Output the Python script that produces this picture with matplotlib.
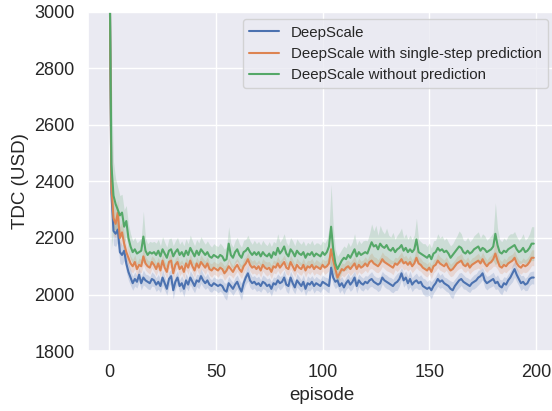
import numpy as np
import matplotlib
matplotlib.use("Agg")
import matplotlib.pyplot as plt
import seaborn as sns

labels = ["DeepScale", "DeepScale with single-step prediction", "DeepScale without prediction"]

blue = [3350, 2360, 2225, 2215, 2230, 2150, 2140, 2155, 2110, 2080,
        2060, 2040, 2055, 2045, 2070, 2040, 2060, 2050, 2045, 2040,
        2055, 2050, 2035, 2045, 2030, 2060, 2040, 2020, 2055, 2065,
        2015, 2045, 2060, 2030, 2040, 2020, 2050, 2035, 2060, 2045,
        2030, 2050, 2045, 2065, 2050, 2040, 2050, 2035, 2030, 2040,
        2035, 2030, 2035, 2030, 2015, 2010, 2040, 2030, 2020, 2035,
        2045, 2025, 2010, 2040, 2060, 2075, 2050, 2040, 2045, 2035,
        2040, 2030, 2045, 2040, 2030, 2035, 2020, 2040, 2035, 2050,
        2040, 2045, 2060, 2035, 2030, 2060, 2040, 2025, 2050, 2040,
        2030, 2045, 2020, 2040, 2035, 2045, 2030, 2040, 2035, 2030,
        2045, 2040, 2035, 2030, 2095, 2060, 2045, 2050, 2030, 2040,
        2025, 2040, 2050, 2035, 2045, 2060, 2030, 2050, 2040, 2035,
        2045, 2040, 2050, 2055, 2045, 2040, 2035, 2040, 2060, 2050,
        2045, 2040, 2035, 2030, 2040, 2045, 2055, 2075, 2050, 2060,
        2040, 2055, 2035, 2045, 2050, 2040, 2045, 2030, 2025, 2020,
        2025, 2015, 2030, 2040, 2055, 2045, 2050, 2040, 2035, 2030,
        2020, 2015, 2030, 2040, 2050, 2055, 2045, 2040, 2035, 2030,
        2040, 2045, 2050, 2060, 2065, 2075, 2050, 2040, 2045, 2050,
        2055, 2040, 2045, 2030, 2025, 2040, 2035, 2050, 2060, 2075,
        2090, 2070, 2055, 2040, 2045, 2035, 2040, 2055, 2060, 2060]

orange = [3350, 2385, 2270, 2250, 2290, 2200, 2220, 2180, 2150, 2130,
          2110, 2100, 2115, 2090, 2105, 2100, 2135, 2110, 2100, 2095,
          2115, 2105, 2090, 2110, 2085, 2120, 2095, 2080, 2115, 2120,
          2075, 2105, 2115, 2090, 2100, 2080, 2110, 2095, 2120, 2100,
          2085, 2110, 2095, 2115, 2105, 2095, 2110, 2090, 2085, 2095,
          2090, 2085, 2095, 2090, 2075, 2085, 2100, 2090, 2080, 2095,
          2105, 2090, 2080, 2100, 2110, 2125, 2105, 2095, 2100, 2090,
          2100, 2085, 2105, 2095, 2090, 2095, 2080, 2100, 2095, 2110,
          2095, 2105, 2115, 2095, 2090, 2115, 2100, 2085, 2105, 2095,
          2090, 2105, 2085, 2100, 2095, 2105, 2090, 2100, 2095, 2090,
          2105, 2095, 2100, 2110, 2160, 2120, 2090, 2060, 2075, 2090,
          2085, 2095, 2100, 2090, 2100, 2110, 2090, 2105, 2095, 2100,
          2110, 2100, 2115, 2120, 2110, 2105, 2100, 2110, 2125, 2115,
          2110, 2105, 2100, 2095, 2110, 2105, 2115, 2125, 2110, 2115,
          2105, 2115, 2100, 2110, 2130, 2110, 2105, 2095, 2090, 2085,
          2095, 2080, 2100, 2105, 2120, 2110, 2105, 2100, 2110, 2095,
          2085, 2090, 2100, 2110, 2115, 2120, 2105, 2100, 2110, 2095,
          2105, 2110, 2115, 2120, 2110, 2125, 2110, 2100, 2110, 2115,
          2125, 2145, 2120, 2100, 2095, 2105, 2100, 2110, 2115, 2120,
          2130, 2110, 2100, 2095, 2105, 2100, 2105, 2115, 2130, 2130]

green = [3350, 2460, 2350, 2320, 2300, 2280, 2290, 2240, 2260, 2200,
         2170, 2150, 2160, 2145, 2150, 2155, 2205, 2155, 2140, 2150,
         2145, 2150, 2140, 2155, 2135, 2160, 2145, 2130, 2155, 2160,
         2135, 2150, 2160, 2140, 2150, 2135, 2155, 2140, 2165, 2150,
         2135, 2155, 2140, 2160, 2150, 2140, 2150, 2135, 2130, 2140,
         2135, 2130, 2140, 2135, 2120, 2125, 2180, 2140, 2130, 2150,
         2160, 2140, 2130, 2150, 2155, 2165, 2150, 2140, 2150, 2140,
         2150, 2135, 2150, 2140, 2135, 2145, 2130, 2150, 2140, 2165,
         2145, 2155, 2170, 2145, 2135, 2160, 2150, 2135, 2155, 2145,
         2140, 2150, 2130, 2145, 2140, 2150, 2135, 2145, 2140, 2135,
         2150, 2140, 2150, 2170, 2240, 2160, 2110, 2090, 2105, 2120,
         2130, 2125, 2140, 2130, 2145, 2160, 2135, 2150, 2140, 2145,
         2150, 2145, 2165, 2185, 2170, 2175, 2160, 2180, 2170, 2165,
         2175, 2160, 2155, 2165, 2150, 2160, 2165, 2175, 2155, 2165,
         2150, 2160, 2150, 2160, 2195, 2150, 2145, 2140, 2135, 2130,
         2140, 2125, 2145, 2150, 2165, 2155, 2160, 2150, 2155, 2145,
         2130, 2140, 2150, 2160, 2170, 2165, 2150, 2145, 2155, 2145,
         2150, 2160, 2165, 2170, 2155, 2165, 2160, 2150, 2155, 2160,
         2170, 2215, 2175, 2150, 2145, 2155, 2150, 2160, 2165, 2170,
         2175, 2160, 2150, 2155, 2165, 2150, 2155, 2165, 2180, 2180]

blue_hw = [0, 60, 50, 45, 45, 40, 35, 35, 30, 30,
           28, 25, 25, 22, 25, 24, 26, 22, 25, 23,
           25, 22, 24, 26, 23, 28, 25, 22, 26, 24,
           30, 25, 24, 22, 26, 28, 24, 22, 25, 26,
           24, 22, 25, 26, 23, 22, 25, 24, 22, 23,
           22, 24, 23, 25, 26, 30, 24, 22, 23, 25,
           24, 26, 30, 25, 24, 28, 25, 23, 22, 24,
           25, 22, 24, 23, 25, 24, 26, 22, 25, 23,
           24, 22, 25, 24, 26, 23, 25, 22, 24, 23,
           22, 25, 24, 26, 23, 22, 25, 24, 22, 23,
           24, 22, 25, 24, 30, 26, 24, 22, 25, 23,
           24, 22, 25, 24, 26, 23, 25, 22, 24, 23,
           22, 25, 24, 26, 23, 22, 25, 24, 22, 23,
           24, 22, 25, 24, 26, 30, 25, 22, 24, 23,
           24, 28, 25, 24, 26, 23, 25, 28, 30, 26,
           28, 30, 25, 24, 26, 23, 25, 22, 24, 23,
           28, 30, 25, 24, 26, 23, 25, 22, 24, 23,
           22, 25, 24, 26, 23, 22, 25, 24, 22, 23,
           24, 22, 25, 24, 26, 23, 25, 22, 24, 30,
           28, 25, 24, 26, 23, 22, 25, 24, 22, 23]

orange_hw = [0, 80, 60, 50, 45, 40, 38, 35, 30, 28,
             26, 24, 25, 22, 24, 23, 30, 24, 22, 23,
             22, 24, 23, 22, 25, 24, 22, 23, 24, 22,
             25, 23, 22, 24, 23, 25, 22, 24, 23, 22,
             24, 22, 23, 25, 22, 24, 23, 22, 24, 23,
             22, 24, 23, 22, 25, 24, 30, 23, 22, 24,
             23, 22, 24, 25, 23, 24, 22, 23, 24, 22,
             23, 24, 22, 23, 25, 22, 24, 23, 22, 25,
             24, 22, 25, 23, 22, 24, 23, 22, 24, 23,
             22, 24, 23, 22, 24, 23, 22, 24, 23, 22,
             22, 24, 23, 25, 50, 35, 30, 25, 24, 22,
             23, 24, 22, 23, 24, 26, 22, 24, 23, 22,
             24, 23, 25, 28, 24, 26, 23, 25, 26, 24,
             26, 24, 23, 25, 22, 24, 25, 26, 23, 24,
             22, 24, 23, 24, 35, 24, 23, 22, 24, 23,
             22, 24, 23, 22, 25, 24, 23, 22, 24, 23,
             22, 24, 23, 25, 24, 26, 23, 22, 24, 23,
             24, 23, 25, 26, 23, 25, 24, 22, 23, 24,
             25, 45, 30, 24, 22, 24, 23, 25, 24, 23,
             25, 24, 22, 23, 25, 23, 24, 25, 28, 28]

green_hw = [0, 300, 120, 90, 80, 70, 65, 60, 55, 50,
            45, 40, 42, 38, 40, 45, 90, 45, 40, 38,
            40, 38, 42, 40, 38, 45, 40, 38, 42, 40,
            38, 40, 42, 38, 40, 38, 42, 40, 45, 40,
            38, 40, 42, 45, 40, 38, 40, 42, 38, 40,
            38, 40, 42, 38, 40, 45, 60, 42, 38, 40,
            42, 40, 38, 42, 40, 45, 40, 38, 42, 40,
            38, 40, 42, 40, 38, 42, 40, 38, 42, 50,
            40, 42, 45, 40, 38, 42, 40, 38, 42, 40,
            38, 40, 42, 40, 38, 42, 40, 38, 42, 40,
            40, 42, 45, 60, 150, 80, 50, 45, 42, 40,
            42, 40, 45, 40, 42, 55, 40, 42, 40, 45,
            42, 45, 50, 65, 55, 70, 50, 65, 55, 50,
            60, 50, 48, 55, 45, 50, 55, 60, 45, 50,
            45, 50, 45, 50, 75, 45, 42, 40, 45, 40,
            42, 40, 45, 42, 50, 45, 48, 42, 45, 40,
            42, 40, 45, 48, 55, 50, 42, 45, 48, 42,
            45, 48, 50, 52, 45, 50, 48, 42, 45, 48,
            50, 110, 60, 45, 42, 45, 42, 48, 50, 45,
            48, 45, 42, 45, 50, 42, 45, 50, 60, 60]

sns.set_theme(style="darkgrid")
plt.rcParams['font.family'] = ['Liberation Sans', 'DejaVu Sans']

fig = plt.figure(figsize=(5.52, 4.11), dpi=100)
ax = fig.add_axes([88 / 552, 60 / 411, 467 / 552, 339 / 411])

colors = sns.color_palette("deep")[:3]
series = [(blue, blue_hw), (orange, orange_hw), (green, green_hw)]
for (vals, hw), lab, c in zip(series, labels, colors):
    v = np.array(vals, dtype=float)
    h = np.array(hw, dtype=float)
    x = np.arange(len(v))
    ax.plot(x, v, color=c, lw=1.5, label=lab)
    ax.fill_between(x, v - h, v + h, color=c, alpha=0.2, lw=0)

ax.set_xlim(-9.95, 208.95)
ax.set_ylim(1800, 3000)
ax.set_xticks([0, 50, 100, 150, 200])
ax.set_yticks([1800, 2000, 2200, 2400, 2600, 2800, 3000])
ax.tick_params(axis='both', labelsize=13)
ax.set_xlabel("episode", fontsize=13.5)
ax.set_ylabel("TDC (USD)", fontsize=13.5)
ax.legend(loc="upper right", fontsize=10.8)

fig.savefig("out.png", dpi=100)
